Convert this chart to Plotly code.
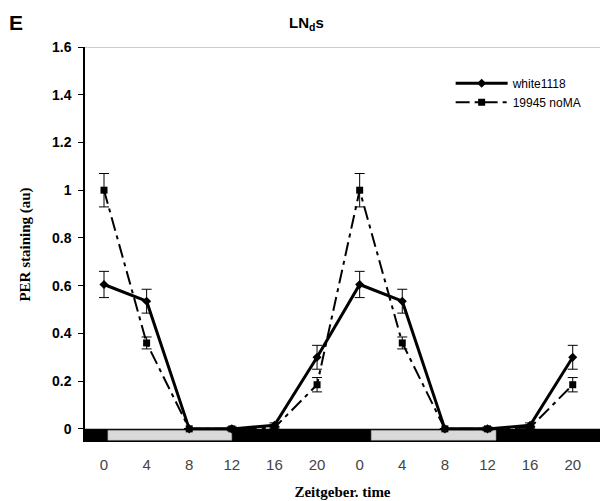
import plotly.graph_objects as go

zt_labels = ["0", "4", "8", "12", "16", "20", "0", "4", "8", "12", "16", "20"]
white1118 = [0.605, 0.535, 0.0, 0.0, 0.015, 0.30, 0.605, 0.535, 0.0, 0.0, 0.015, 0.30]
white1118_err = [0.055, 0.05, 0.0, 0.008, 0.01, 0.05, 0.055, 0.05, 0.0, 0.008, 0.01, 0.05]
nomA = [1.0, 0.36, 0.0, 0.0, 0.005, 0.185, 1.0, 0.36, 0.0, 0.0, 0.005, 0.185]
nomA_err = [0.07, 0.025, 0.0, 0.005, 0.005, 0.03, 0.07, 0.025, 0.0, 0.005, 0.005, 0.03]

x = list(range(len(zt_labels)))

fig = go.Figure()
fig.add_trace(go.Scatter(
    x=x, y=white1118, name="white1118", mode="lines+markers",
    line=dict(color="black", width=3),
    marker=dict(symbol="diamond", size=7, color="black"),
    error_y=dict(type="data", array=white1118_err, color="black", thickness=1, width=5),
))
fig.add_trace(go.Scatter(
    x=x, y=nomA, name="19945 noMA", mode="lines+markers",
    line=dict(color="black", width=2, dash="14px,5px,4px,5px"),
    marker=dict(symbol="square", size=7, color="black"),
    error_y=dict(type="data", array=nomA_err, color="black", thickness=1, width=5),
))

shapes = []
# light/dark bar under the axis
shapes.append(dict(type="rect", xref="paper", yref="y", x0=0, x1=1, y0=-0.055, y1=0,
                   fillcolor="black", line=dict(width=0), layer="below"))
for a, b in [(0.09, 3.0), (6.27, 9.2)]:
    shapes.append(dict(type="rect", xref="x", yref="y", x0=a, x1=b, y0=-0.048, y1=-0.006,
                       fillcolor="#d9d9d9", line=dict(color="#888", width=0.5), layer="below"))
# top border
shapes.append(dict(type="line", xref="paper", yref="y", x0=0, x1=1, y0=1.6, y1=1.6,
                   line=dict(color="#999", width=1)))

fig.update_layout(
    width=601, height=501,
    margin=dict(l=85, r=1, t=47, b=59),
    paper_bgcolor="white", plot_bgcolor="white",
    showlegend=True,
    legend=dict(x=0.71, y=0.945, xanchor="left", yanchor="top",
                font=dict(family="Liberation Sans, Arial", size=12, color="black"),
                bgcolor="rgba(0,0,0,0)", itemwidth=52, tracegroupgap=4),
    shapes=shapes,
    annotations=[
        dict(text="<b>E</b>", xref="paper", yref="paper", x=-0.152, y=1.0, yshift=25,
             xanchor="left", yanchor="middle", showarrow=False,
             font=dict(family="Liberation Sans, Arial", size=21, color="black")),
        dict(text="<b>LN<sub>d</sub>s</b>", xref="paper", yref="paper", x=0.43, y=1.0, yshift=24,
             xanchor="center", yanchor="middle", showarrow=False,
             font=dict(family="Liberation Sans, Arial", size=15, color="black")),
    ],
    xaxis=dict(
        range=[-0.446, 11.64], tickmode="array", tickvals=x, ticktext=zt_labels,
        showline=False, showgrid=False, zeroline=False, ticks="",
        ticklabelstandoff=12,
        tickfont=dict(family="Liberation Sans, Arial", size=15, color="#444"),
        title=dict(text="<b>Zeitgeber. time</b>", standoff=14,
                   font=dict(family="Liberation Serif, DejaVu Serif", size=15, color="black")),
    ),
    yaxis=dict(
        range=[-0.055, 1.6], tickmode="array",
        tickvals=[0, 0.2, 0.4, 0.6, 0.8, 1.0, 1.2, 1.4, 1.6],
        ticktext=["<b>0</b>", "<b>0.2</b>", "<b>0.4</b>", "<b>0.6</b>", "<b>0.8</b>", "<b>1</b>",
                  "<b>1.2</b>", "<b>1.4</b>", "<b>1.6</b>"],
        showline=True, linecolor="black", linewidth=1.5, showgrid=False, zeroline=False,
        ticks="outside", ticklen=5, tickcolor="black", ticklabelstandoff=4,
        tickfont=dict(family="Liberation Sans, Arial", size=14, color="black"),
        title=dict(text="<b>PER staining (au)</b>", standoff=18,
                   font=dict(family="Liberation Serif, DejaVu Serif", size=15, color="black")),
    ),
)

fig.write_html("out.html")
